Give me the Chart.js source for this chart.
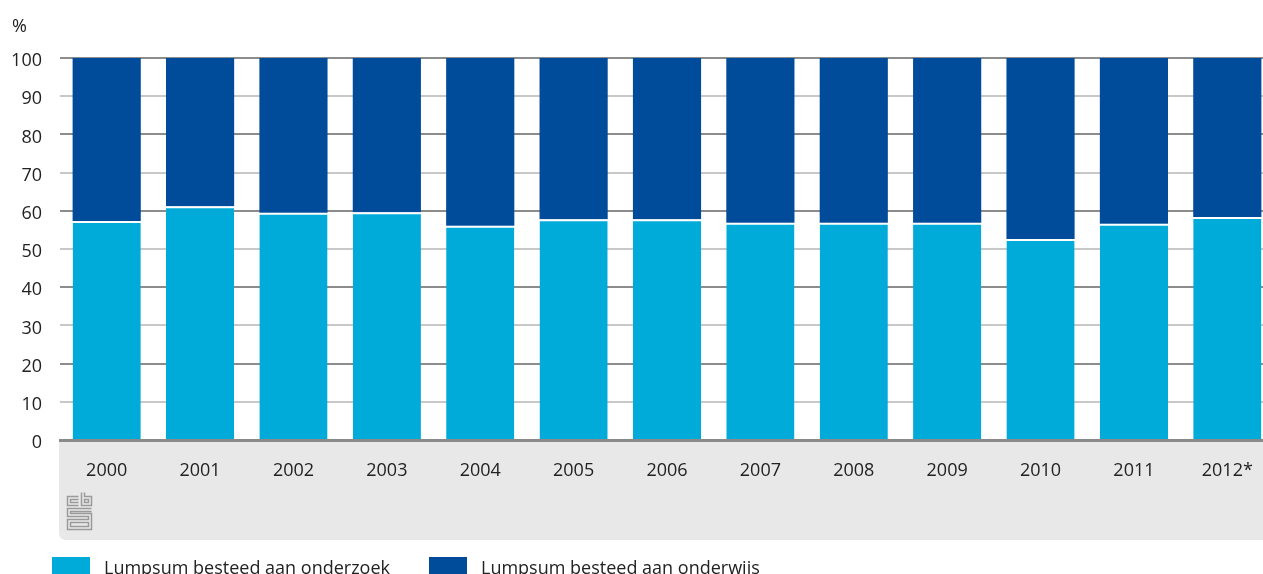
<!DOCTYPE html>
<html>
<head>
<meta charset="utf-8">
<script src="https://cdn.jsdelivr.net/npm/chart.js@4"></script>
<style>
  html, body { margin: 0; padding: 0; background: #fff; overflow: hidden; width: 1263px; height: 574px; }
  #wrap { position: absolute; left: 0; top: 0; width: 1274px; height: 574px; }
  .unit { position: absolute; left: 12px; top: 13px; font: 18px "Open Sans", sans-serif; color: #222; }
  .leg { position: absolute; top: 557px; font: 18px "Open Sans", sans-serif; color: #222; white-space: nowrap; }
  .leg span { position: absolute; top: 0; width: 38px; height: 18px; }
  .leg b { font-weight: normal; position: absolute; top: -2px; }
</style>
</head>
<body>
<div id="wrap"><canvas id="chart" width="1274" height="574"></canvas></div>
<div class="unit">%</div>
<div class="leg" style="left:52px"><span style="background:#00abd9;left:0"></span><b style="left:52px">Lumpsum besteed aan onderzoek</b></div>
<div class="leg" style="left:429px"><span style="background:#004c9b;left:0"></span><b style="left:52px">Lumpsum besteed aan onderwijs</b></div>
<script>
// DATA
const years = ["2000", "2001", "2002", "2003", "2004", "2005", "2006", "2007", "2008", "2009", "2010", "2011", "2012*"];
const onderzoek = [57.3, 61.2, 59.5, 59.6, 56.1, 57.8, 57.8, 56.9, 56.9, 56.9, 52.6, 56.6, 58.4];
const onderwijs = [42.7, 38.8, 40.5, 40.4, 43.9, 42.2, 42.2, 43.1, 43.1, 43.1, 47.4, 43.4, 41.6];
const yTicks = [0, 10, 20, 30, 40, 50, 60, 70, 80, 90, 100];

const LIGHT = "#00abd9";
const DARK = "#004c9b";

// grey panel under the axis + cbs logo
const panelPlugin = {
  id: "panel",
  beforeDraw(chart) {
    const { ctx, chartArea } = chart;
    const x0 = chartArea.left - 1, y0 = chartArea.bottom, x1 = chart.width, y1 = 540, r = 7;
    ctx.save();
    ctx.fillStyle = "#e8e8e8";
    ctx.beginPath();
    ctx.moveTo(x0, y0);
    ctx.lineTo(x1, y0);
    ctx.lineTo(x1, y1);
    ctx.lineTo(x0 + r, y1);
    ctx.quadraticCurveTo(x0, y1, x0, y1 - r);
    ctx.closePath();
    ctx.fill();

    // logo
    ctx.strokeStyle = "#9a9a9a";
    ctx.lineWidth = 1.5;
    const lx = 67.5, ly = 492.5;
    ctx.beginPath();
    // c
    ctx.moveTo(lx + 11, ly + 4); ctx.lineTo(lx, ly + 4); ctx.lineTo(lx, ly + 13); ctx.lineTo(lx + 11, ly + 13);
    ctx.moveTo(lx + 11, ly + 7); ctx.lineTo(lx + 3, ly + 7); ctx.lineTo(lx + 3, ly + 10); ctx.lineTo(lx + 11, ly + 10);
    // b
    ctx.moveTo(lx + 14, ly); ctx.lineTo(lx + 14, ly + 13); ctx.lineTo(lx + 24, ly + 13); ctx.lineTo(lx + 24, ly + 4); ctx.lineTo(lx + 17, ly + 4); ctx.lineTo(lx + 17, ly);
    ctx.rect(lx + 17, ly + 7, 4, 3);
    // s
    ctx.moveTo(lx + 24, ly + 16); ctx.lineTo(lx, ly + 16); ctx.lineTo(lx, ly + 24); ctx.lineTo(lx + 21, ly + 24); ctx.lineTo(lx + 21, ly + 27); ctx.lineTo(lx, ly + 27); ctx.lineTo(lx, ly + 37); ctx.lineTo(lx + 24, ly + 37); ctx.lineTo(lx + 24, ly + 21); ctx.lineTo(lx + 3, ly + 21); ctx.lineTo(lx + 3, ly + 19); ctx.lineTo(lx + 24, ly + 19);
    ctx.moveTo(lx + 3, ly + 30); ctx.lineTo(lx + 3, ly + 34); ctx.lineTo(lx + 21, ly + 34); ctx.lineTo(lx + 21, ly + 30); ctx.closePath();
    ctx.stroke();
    ctx.restore();
  }
};

new Chart(document.getElementById("chart"), {
  type: "bar",
  data: {
    labels: years,
    datasets: [
      { label: "Lumpsum besteed aan onderzoek", data: onderzoek, backgroundColor: LIGHT, borderColor: "#ffffff", borderWidth: { top: 2 }, borderSkipped: false },
      { label: "Lumpsum besteed aan onderwijs", data: onderwijs, backgroundColor: DARK }
    ]
  },
  options: {
    responsive: false,
    animation: false,
    layout: { padding: { top: 58, right: 0, left: 0, bottom: 0 } },
    plugins: { legend: { display: false }, tooltip: { enabled: false } },
    datasets: { bar: { barPercentage: 0.73, categoryPercentage: 1 } },
    scales: {
      x: {
        stacked: true,
        grid: { display: false },
        border: { color: "#8a8a8a", width: 3 },
        ticks: { color: "#222", font: { family: "Open Sans", size: 18 }, padding: 12, maxRotation: 0 },
        afterFit(scale) { scale.height = 134; }
      },
      y: {
        stacked: true,
        min: 0, max: 100,
        afterBuildTicks(scale) { scale.ticks = yTicks.map(v => ({ value: v })); },
        grid: {
          drawTicks: false,
          lineWidth: 2,
          color: ctx => (ctx.tick && ctx.tick.value % 20 === 0) ? "#8c8c8c" : "#c8c8c8"
        },
        border: { display: false },
        ticks: { color: "#222", font: { family: "Open Sans", size: 18 }, padding: 18, labelOffset: 3 },
        afterFit(scale) { scale.width = 60; }
      }
    }
  },
  plugins: [panelPlugin]
});
</script>
</body>
</html>
